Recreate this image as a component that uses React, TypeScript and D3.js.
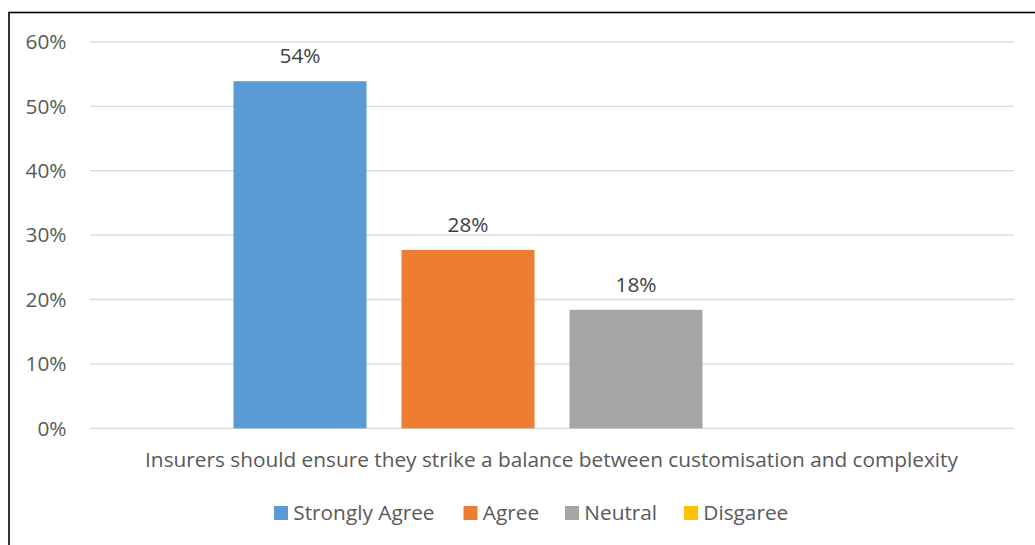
import React from "react";
import * as d3 from "d3";

// Survey responses for a single statement
const categoryLabel =
  "Insurers should ensure they strike a balance between customisation and complexity";
const responses = ["Strongly Agree", "Agree", "Neutral", "Disgaree"];
const shares = [0.539, 0.277, 0.184, 0];
const colors = ["#5B9BD5", "#ED7D31", "#A5A5A5", "#FFC000"];
const yTicks = [0, 0.1, 0.2, 0.3, 0.4, 0.5, 0.6];

const W = 1035;
const H = 545;
const FONT = "'Open Sans', 'Noto Sans', sans-serif";
const FS = 20.8;

export default function App() {
  const plotLeft = 90;
  const plotRight = 1014;
  const y = d3.scaleLinear().domain([0, 0.6]).range([428.3, 41.9]);

  // One category; four series bars inside it
  const xCat = d3
    .scaleBand()
    .domain([categoryLabel])
    .range([plotLeft, plotRight])
    .paddingInner(0)
    .paddingOuter(0.2253);
  const xSeries = d3
    .scaleBand()
    .domain(responses)
    .range([0, xCat.bandwidth()])
    .paddingInner(35 / 168)
    .paddingOuter(0);
  const pct = d3.format(".0%");

  const legendX = [274, 463.5, 565, 684];

  return (
    <svg
      width={W}
      height={H}
      style={{ position: "absolute", left: 0, top: 0, background: "#fff" }}
      fontFamily={FONT}
    >
      <rect x={0} y={0} width={W} height={H} fill="#fff" />
      <rect x={9} y={12.5} width={W + 20} height={H + 20} fill="none" stroke="#000" strokeWidth={1.6} />

      {yTicks.map((t) => (
        <g key={t}>
          <line x1={plotLeft} x2={plotRight} y1={y(t)} y2={y(t)} stroke="#D9D9D9" strokeWidth={1.3} />
          <text x={66.5} y={y(t) + 7.3} textAnchor="end" fontSize={FS} fill="#595959">
            {pct(t)}
          </text>
        </g>
      ))}

      {responses.map((r, i) => {
        const x0 = (xCat(categoryLabel) as number) + (xSeries(r) as number);
        const v = shares[i];
        if (v <= 0) return null;
        return (
          <g key={r}>
            <rect x={x0} y={y(v)} width={xSeries.bandwidth()} height={y(0) - y(v)} fill={colors[i]} />
            <text
              x={x0 + xSeries.bandwidth() / 2}
              y={y(v) - 18}
              textAnchor="middle"
              fontSize={FS}
              fill="#404040"
            >
              {pct(v)}
            </text>
          </g>
        );
      })}

      <text x={(plotLeft + plotRight) / 2 - 0.5} y={467} textAnchor="middle" fontSize={FS} fill="#595959">
        {categoryLabel}
      </text>

      {responses.map((r, i) => (
        <g key={r}>
          <rect x={legendX[i]} y={506} width={14} height={14} fill={colors[i]} />
          <text x={legendX[i] + 19.3} y={520} fontSize={FS} fill="#595959">
            {r}
          </text>
        </g>
      ))}
    </svg>
  );
}
